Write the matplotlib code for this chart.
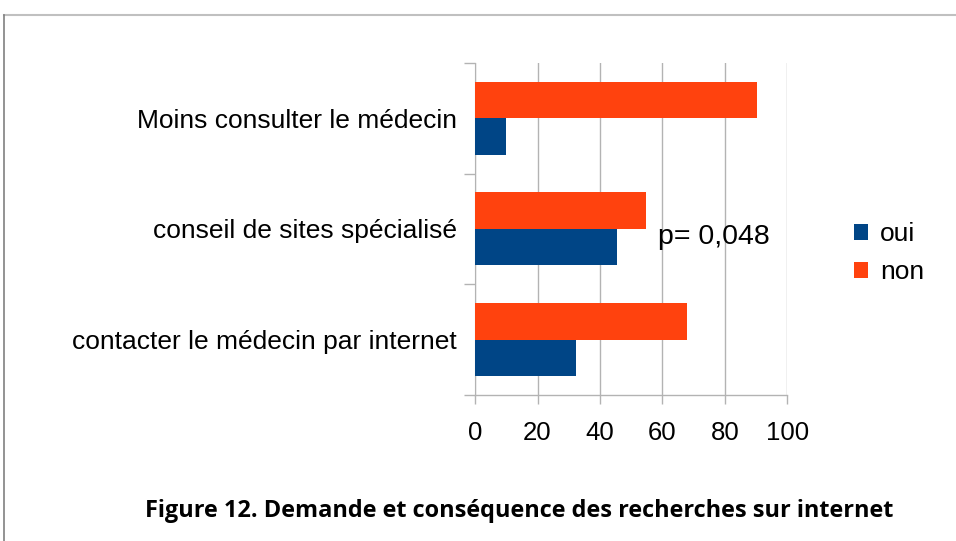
import numpy as np
import matplotlib.pyplot as plt
from matplotlib.lines import Line2D

categories = ['contacter le médecin par internet', 'conseil de sites spécialisé', 'Moins consulter le médecin']
oui = [32.2, 45.3, 9.8]
non = [67.8, 54.7, 90.2]
x_ticks = [0, 20, 40, 60, 80, 100]

plt.rcParams['font.family'] = ['Liberation Sans', 'DejaVu Sans']

fig = plt.figure(figsize=(9.56, 5.41), dpi=100)
ax = fig.add_axes([0.4969, 0.2699, 0.3267, 0.6137])

y = np.arange(len(categories))
h = 0.33
ax.barh(y - h / 2, oui, height=h, color='#004586', label='oui', zorder=3)
ax.barh(y + h / 2, non, height=h, color='#ff420e', label='non', zorder=3)

ax.set_xlim(0, 100)
ax.set_ylim(-0.5, 2.5)
ax.set_xticks(x_ticks)
ax.set_yticks(y)
ax.set_yticklabels(categories)
ax.set_yticks([-0.5, 0.5, 1.5, 2.5], minor=True)
ax.tick_params(axis='y', which='major', length=0, pad=13, labelsize=19)
ax.tick_params(axis='y', which='minor', length=8, color='#b3b3b3', width=1)
ax.tick_params(axis='x', length=6.5, color='#b3b3b3', width=1, labelsize=18.5, pad=12)
ax.grid(axis='x', color='#b3b3b3', linewidth=1, zorder=0)
for s in ['top', 'right', 'bottom']:
    ax.spines[s].set_visible(False)
ax.spines['left'].set_color('#b3b3b3')
ax.axhline(-0.5, color='#b3b3b3', linewidth=1, zorder=1, clip_on=False)

ax.text(58.5, 0.93, 'p= 0,048', fontsize=20.5, va='center', ha='left')

fig.legend(loc='center left', bbox_to_anchor=(0.893, 0.532), frameon=False,
           fontsize=19, handlelength=0.55, handleheight=0.55, labelspacing=0.55,
           handletextpad=0.45, borderaxespad=0, borderpad=0)

fig.text(0.543, 0.056, 'Figure 12. Demande et conséquence des recherches sur internet',
         fontsize=16.9, fontweight='bold', ha='center', va='center',
         family=['Open Sans', 'DejaVu Sans'], fontstretch='condensed')

# page frame
fig.add_artist(Line2D([0.004, 1.0], [0.972, 0.972], color='#c0c0c0', linewidth=1.5))
fig.add_artist(Line2D([0.004, 0.004], [0.0, 0.972], color='#808080', linewidth=1.2))

fig.savefig('out.png', dpi=100)
